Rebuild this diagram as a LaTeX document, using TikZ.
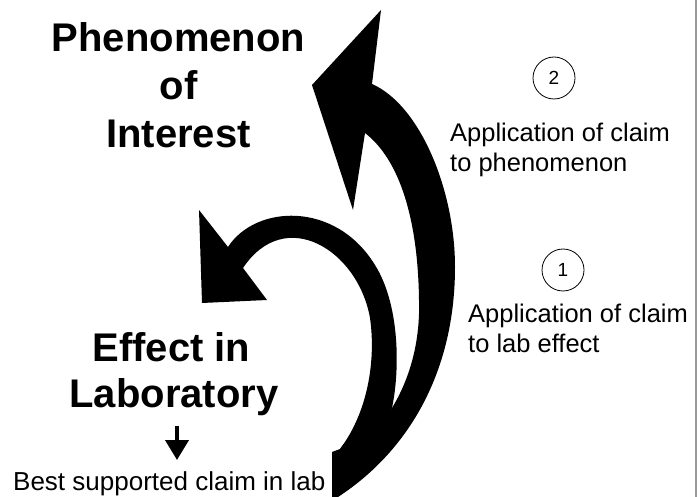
\documentclass[tikz,border=0pt]{standalone}
\usepackage{fontspec}
\setmainfont{Liberation Sans}
\usetikzlibrary{arrows.meta}
\begin{document}
\begin{tikzpicture}[x=1pt,y=-1pt,
  title/.style={font=\bfseries\fontsize{40}{48}\selectfont, anchor=base, inner sep=0pt},
  note/.style={font=\fontsize{25.5}{30}\selectfont, anchor=base west, inner sep=0pt},
  stepnum/.style={circle, draw, line width=0.8pt, minimum size=42pt, inner sep=0pt,
                  font=\fontsize{19}{19}\selectfont},
  band/.style={fill=black, draw=none}]
\useasboundingbox (0,0) rectangle (697,497);
\fill[white] (0,0) rectangle (697,497);
\draw[gray!80, line width=1.4pt] (696,0) -- (696,497);

% headings
\node[title] (ph1) at (178.5,52) {Phenomenon};
\node[title] (ph2) at (178.5,100) {of};
\node[title] (ph3) at (178.5,148) {Interest};
\node[title] (lab1) at (171.5,362) {Effect in};
\node[title] (lab2) at (174,408) {Laboratory};

% result of the lab step
\coordinate (dtop) at (177,426);
\coordinate (dbot) at (177,460);
\draw[line width=4pt, -{Triangle[width=23pt,length=20pt]}] (dtop) -- (dbot);
\node[note, font=\fontsize{26}{30}\selectfont] (best) at (13,490) {Best supported claim in lab};

% numbered steps
\node[stepnum] (s2) at (554,78) {2};
\node[note] (a2a) at (450,142) {Application of claim};
\node[note] (a2b) at (450,172) {to phenomenon};
\node[stepnum] (s1) at (563,270) {1};
\node[note] (a1a) at (468,323) {Application of claim};
\node[note] (a1b) at (468,353) {to lab effect};

% outer arrow: lab -> phenomenon
\fill[band] (381,10) -- (372,84)
  .. controls (420,105) and (455,190) .. (455,267)
  .. controls (455,370) and (410,450) .. (338,497)
  -- (332,497) -- (332,452) -- (340,449) -- (362,420) -- (392,408)
  .. controls (415,370) and (420,330) .. (419,300)
  .. controls (418,220) and (400,160) .. (365,133)
  -- (353,210) -- (312,85) -- cycle;

% inner arrow: back to the lab effect
\fill[band] (202,303) -- (199,210) -- (228,247)
  .. controls (255,205) and (335,200) .. (375,265)
  .. controls (400,305) and (400,370) .. (392,408)
  -- (340,449)
  .. controls (368,412) and (376,360) .. (370,318)
  .. controls (358,250) and (285,205) .. (243,268)
  -- (267,300) -- cycle;
\end{tikzpicture}
\end{document}
